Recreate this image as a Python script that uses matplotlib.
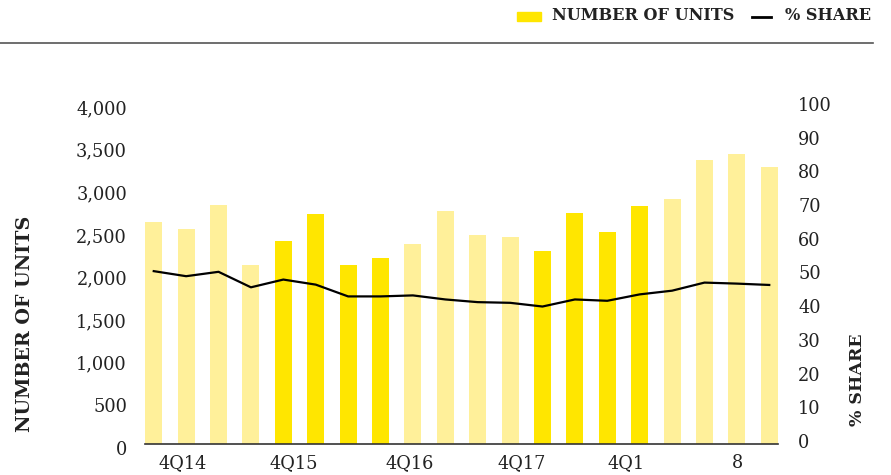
import matplotlib.pyplot as plt
import matplotlib.transforms as mtransforms
from matplotlib.lines import Line2D
from matplotlib.patches import Rectangle
import numpy as np

# ---- data ----
units = [2600, 2520, 2800, 2100, 2380, 2700, 2100, 2180, 2345, 2735,
         2450, 2430, 2265, 2710, 2485, 2790, 2875, 3330, 3400, 3250]
share = [50.4, 48.9, 50.2, 45.6, 47.9, 46.4, 42.9, 42.9, 43.2, 42.0,
         41.2, 41.0, 39.9, 42.0, 41.6, 43.5, 44.6, 47.0, 46.7, 46.3]
highlight = [0, 0, 0, 0, 1, 1, 1, 1, 0, 0,
             0, 0, 1, 1, 1, 1, 0, 0, 0, 0]
xlabels = ["4Q14", "4Q15", "4Q16", "4Q17", "4Q1", "8"]
left_ticks = [0, 500, 1000, 1500, 2000, 2500, 3000, 3500, 4000]
right_ticks = [0, 10, 20, 30, 40, 50, 60, 70, 80, 90, 100]

YELLOW = "#FFE600"
LIGHT = "#FFF09A"
TXT = "#222222"
FONT = "DejaVu Serif"

W, H = 891, 475
fig = plt.figure(figsize=(W / 100, H / 100), dpi=100)
ax = fig.add_axes([145 / W, (H - 444) / H, (778 - 145) / W, (444 - 103) / H])

x = np.arange(len(units))
colors = [YELLOW if h else LIGHT for h in highlight]
ax.bar(x, units, width=0.525, color=colors, zorder=2)
ax.set_xlim(-0.27, len(units) - 1 + 0.27)
ax.set_ylim(0, 4000)

ax2 = ax.twinx()
ax2.plot(x, share, color="black", lw=1.6, zorder=3)
ax2.set_ylim(-0.9, 100.3)

for a in (ax, ax2):
    for s in a.spines.values():
        s.set_visible(False)
    a.tick_params(length=0)
ax.spines["bottom"].set_visible(True)
ax.spines["bottom"].set_color("#333333")
ax.spines["bottom"].set_linewidth(1.2)
ax.spines["bottom"].set_zorder(4)

ax.set_yticks(left_ticks)
ax.set_yticklabels([f"{v:,}" for v in left_ticks], fontsize=12.8,
                   family=FONT, color=TXT)
ax.tick_params(axis="y", pad=13)
off = mtransforms.ScaledTranslation(0, -4 / 100, fig.dpi_scale_trans)
for lab in ax.get_yticklabels():
    lab.set_transform(lab.get_transform() + off)

ax2.set_yticks(right_ticks)
ax2.set_yticklabels([str(v) for v in right_ticks], fontsize=12.8,
                    family=FONT, color=TXT)
ax2.tick_params(axis="y", pad=14.4)

ax.set_xticks([0.88, 4.31, 7.90, 11.36, 14.57, 18.03])
ax.set_xticklabels(xlabels, fontsize=12.8, family=FONT, color=TXT)
ax.tick_params(axis="x", pad=7.5)

fig.text(25 / W, 1 - 324 / H, "NUMBER OF UNITS", rotation=90, ha="center",
         va="center", fontsize=13.8, family=FONT, weight="bold", color=TXT)
fig.text(858 / W, 1 - 380 / H, "% SHARE", rotation=90, ha="center",
         va="center", fontsize=12.5, family=FONT, weight="bold", color=TXT)

# legend + header rule
fig.patches.append(Rectangle((517 / W, 1 - 21 / H), 24 / W, 8.5 / H,
                             transform=fig.transFigure, color=YELLOW))
fig.text(552 / W, 1 - 16 / H, "NUMBER OF UNITS", ha="left", va="center",
         fontsize=11.6, family=FONT, weight="bold", color=TXT)
fig.lines.append(Line2D([752 / W, 771 / W], [1 - 16.5 / H, 1 - 16.5 / H],
                        transform=fig.transFigure, color="black", lw=2))
fig.text(785 / W, 1 - 16 / H, "% SHARE", ha="left", va="center",
         fontsize=11.6, family=FONT, weight="bold", color=TXT)
fig.lines.append(Line2D([0, 873 / W], [1 - 42.5 / H, 1 - 42.5 / H],
                        transform=fig.transFigure, color="#555555", lw=1.2))

fig.savefig("out.png", dpi=100)
